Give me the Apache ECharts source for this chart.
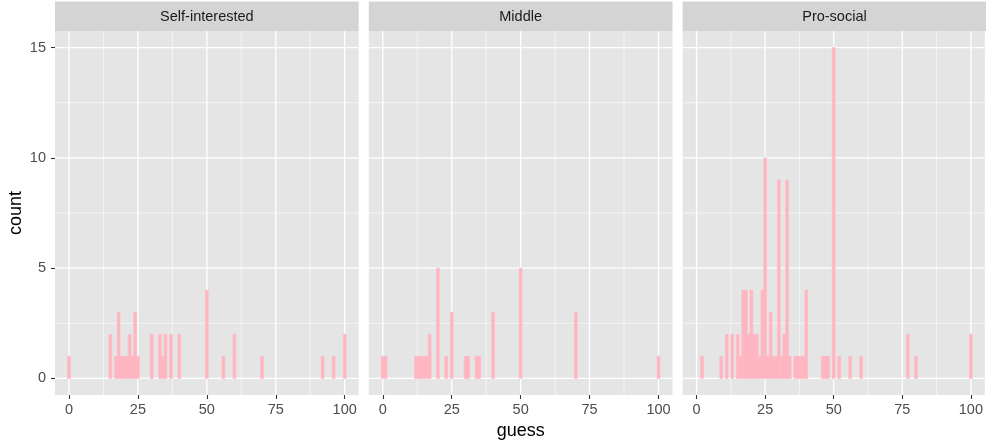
<!DOCTYPE html>
<html><head><meta charset="utf-8">
<script src="https://cdn.jsdelivr.net/npm/echarts@6/dist/echarts.min.js"></script>
<style>html,body{margin:0;padding:0;background:#fff}#c{width:986px;height:445px}</style>
</head><body><div id="c"></div>
<script>
const panelNames = ['Self-interested', 'Middle', 'Pro-social'];

const selfGuess = [0, 15, 17, 18, 19, 20, 21, 22, 23, 24, 25, 30, 33, 34, 35, 37, 40, 50, 56, 60, 70, 92, 96, 100];
const selfCount = [1, 2, 1, 3, 1, 1, 1, 2, 1, 3, 1, 2, 2, 1, 2, 2, 2, 4, 1, 2, 1, 1, 1, 2];

const middleGuess = [0, 1, 12, 13, 14, 15, 16, 17, 20, 23, 25, 30, 31, 34, 35, 40, 50, 70, 100];
const middleCount = [1, 1, 1, 1, 1, 1, 1, 2, 5, 1, 3, 1, 1, 1, 1, 3, 5, 3, 1];

const proGuess = [2, 9, 11, 13, 15, 16, 17, 18, 19, 20, 21, 22, 23, 24, 25, 26, 27, 28, 29, 30, 31, 32, 33, 34, 36, 37, 38, 39, 40, 46, 47, 48, 50, 52, 56, 60, 77, 80, 100];
const proCount = [1, 1, 2, 2, 2, 1, 4, 4, 2, 4, 2, 2, 1, 4, 10, 1, 3, 1, 1, 9, 1, 2, 9, 1, 1, 1, 1, 1, 4, 1, 1, 1, 15, 1, 1, 1, 2, 1, 2];

const xTicks = [0, 25, 50, 75, 100];
const xMinor = [12.5, 37.5, 62.5, 87.5];
const yTicks = [0, 5, 10, 15];
const yMinor = [2.5, 7.5, 12.5];
const binWidth = 1;

const X_MIN = -5.08, X_MAX = 105.08, Y_MIN = -0.75, Y_MAX = 15.75;
const FONT = "'Liberation Sans', Arial, Helvetica, sans-serif";
const panelLefts = [55, 368.8, 682.6];
const panelWidth = 303.7;
const panelTop = 31, panelHeight = 364;
const BAR_COLOR = '#FFB6C1';

const panelData = [
  selfGuess.map((g, i) => [g, selfCount[i]]),
  middleGuess.map((g, i) => [g, middleCount[i]]),
  proGuess.map((g, i) => [g, proCount[i]])
];

const gridLineData = [];
xTicks.forEach(v => gridLineData.push([v, 0, 1]));
xMinor.forEach(v => gridLineData.push([v, 0, 0]));
yTicks.forEach(v => gridLineData.push([v, 1, 1]));
yMinor.forEach(v => gridLineData.push([v, 1, 0]));

function gridRender(params, api) {
  const v = api.value(0), dir = api.value(1), major = api.value(2);
  let p1, p2;
  if (dir === 0) { p1 = api.coord([v, Y_MIN]); p2 = api.coord([v, Y_MAX]); }
  else { p1 = api.coord([X_MIN, v]); p2 = api.coord([X_MAX, v]); }
  return { type: 'line', shape: { x1: p1[0], y1: p1[1], x2: p2[0], y2: p2[1] },
           style: { stroke: '#ffffff', lineWidth: major ? 1.3 : 0.6 } };
}

function barRender(params, api) {
  const x = api.value(0), c = api.value(1);
  const p0 = api.coord([x - binWidth / 2, 0]);
  const p1 = api.coord([x + binWidth / 2, c]);
  return { type: 'rect', shape: { x: p0[0], y: p1[1], width: p1[0] - p0[0], height: p0[1] - p1[1] },
           style: { fill: BAR_COLOR, stroke: BAR_COLOR, lineWidth: 0.6 } };
}

const grids = [], xAxes = [], yAxes = [], series = [], graphics = [];
panelNames.forEach((name, i) => {
  grids.push({ left: panelLefts[i], top: panelTop, width: panelWidth, height: panelHeight,
               show: true, backgroundColor: '#E5E5E5', borderWidth: 0 });
  xAxes.push({
    gridIndex: i, type: 'value', min: X_MIN, max: X_MAX, position: 'bottom',
    axisLine: { show: false, onZero: false },
    axisTick: { show: true, customValues: xTicks, length: 4, lineStyle: { color: '#333333', width: 1.1 } },
    axisLabel: { customValues: xTicks, color: '#4D4D4D', fontSize: 14.5, fontFamily: FONT, margin: 7 },
    splitLine: { show: false },
    name: i === 1 ? 'guess' : '', nameLocation: 'middle', nameGap: 26,
    nameTextStyle: { color: '#000', fontSize: 18, fontFamily: FONT }
  });
  yAxes.push({
    gridIndex: i, type: 'value', min: Y_MIN, max: Y_MAX, position: 'left',
    axisLine: { show: false, onZero: false },
    axisTick: { show: i === 0, customValues: yTicks, length: 4, lineStyle: { color: '#333333', width: 1.1 } },
    axisLabel: { show: i === 0, customValues: yTicks, color: '#4D4D4D', fontSize: 14.5, fontFamily: FONT, margin: 9 },
    splitLine: { show: false },
    name: i === 0 ? 'count' : '', nameLocation: 'middle', nameGap: 30, nameRotate: 90,
    nameTextStyle: { color: '#000', fontSize: 18, fontFamily: FONT }
  });
  series.push({ type: 'custom', xAxisIndex: i, yAxisIndex: i, z: 1, silent: true,
                renderItem: gridRender, data: gridLineData, clip: true });
  series.push({ type: 'custom', xAxisIndex: i, yAxisIndex: i, z: 2,
                renderItem: barRender, data: panelData[i], clip: true });
  graphics.push({
    type: 'rect', left: panelLefts[i], top: 1.5, z: 10,
    shape: { width: panelWidth, height: 29.5 }, style: { fill: '#D4D4D4' }
  });
  graphics.push({
    type: 'text', x: panelLefts[i] + panelWidth / 2, y: 16.5, z: 11,
    style: { text: name, fill: '#1A1A1A', font: '14.5px ' + FONT, align: 'center', verticalAlign: 'middle' }
  });
});

const chart = echarts.init(document.getElementById('c'), null, { renderer: 'canvas' });
chart.setOption({
  animation: false,
  backgroundColor: '#ffffff',
  grid: grids, xAxis: xAxes, yAxis: yAxes, series: series, graphic: graphics
});
</script>
</body></html>
